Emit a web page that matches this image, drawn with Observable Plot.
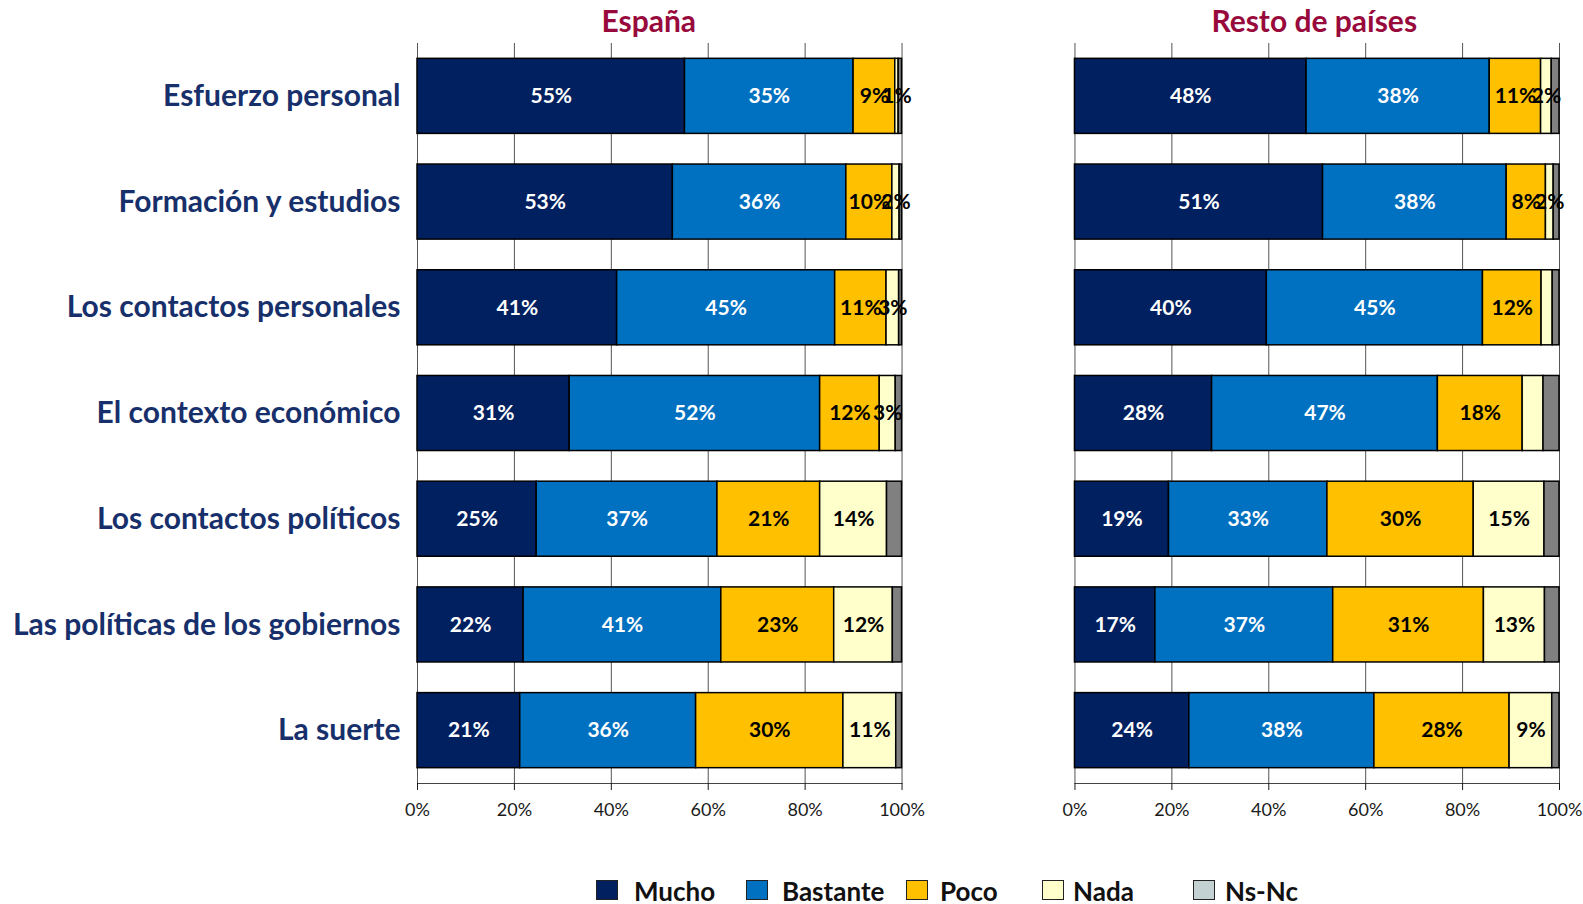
<!DOCTYPE html>
<html>
<head>
<meta charset="utf-8">
<script src="https://cdn.jsdelivr.net/npm/d3@7"></script>
<script src="https://cdn.jsdelivr.net/npm/@observablehq/plot@0.6"></script>
<style>
  body { margin: 0; background: #fff; }
  #wrap { position: relative; width: 1583px; height: 904px; overflow: hidden; font-family: Lato, sans-serif; background:#fff; }
  #legend { position: absolute; left: 0; top: 0; width: 1583px; height: 904px; pointer-events: none; }
  .sw { position: absolute; top: 880px; width: 22px; height: 20px; box-sizing: border-box; border: 1.5px solid #222; }
  .lab { position: absolute; top: 876px; font-weight: bold; font-size: 26px; line-height: 30px; color: #111; white-space: nowrap; }
</style>
</head>
<body>
<div id="wrap"><div id="chart"></div><div id="legend"></div></div>
<script>
// ---- data ----
const categories = ["Esfuerzo personal", "Formación y estudios", "Los contactos personales", "El contexto económico", "Los contactos políticos", "Las políticas de los gobiernos", "La suerte"];
const series = ["Mucho", "Bastante", "Poco", "Nada", "Ns-Nc"];
const panels = ["España", "Resto de países"];

const espanaMucho    = [55.2, 52.7, 41.2, 31.4, 24.6, 21.9, 21.2];
const espanaBastante = [34.8, 35.8, 45.0, 51.7, 37.3, 40.8, 36.3];
const espanaPoco     = [8.6, 9.5, 10.6, 12.3, 21.2, 23.3, 30.4];
const espanaNada     = [0.7, 1.5, 2.6, 3.3, 13.8, 12.1, 10.9];
const espanaNsNc     = [0.7, 0.5, 0.6, 1.3, 3.1, 1.9, 1.2];

const restoMucho     = [47.8, 51.2, 39.6, 28.3, 19.4, 16.6, 23.6];
const restoBastante  = [37.8, 37.9, 44.6, 46.6, 32.7, 36.7, 38.2];
const restoPoco      = [10.6, 8.1, 12.1, 17.5, 30.2, 31.1, 27.9];
const restoNada      = [2.2, 1.6, 2.3, 4.3, 14.6, 12.6, 8.8];
const restoNsNc      = [1.6, 1.2, 1.4, 3.3, 3.1, 3.0, 1.5];

// labels that the original leaves out
const hiddenLabels = [
  ["Resto de países", "Los contactos personales", "Nada"],
  ["Resto de países", "El contexto económico", "Nada"]
];
const unlabeledSeries = ["Ns-Nc"];
const xTicks = [0, 20, 40, 60, 80, 100];

// ---- styles ----
const barColors = ["#002060", "#0070C0", "#FFC000", "#FFFFCC", "#808080"];
const legendColors = ["#002060", "#0070C0", "#FFC000", "#FFFFCC", "#C3D1D3"];
const darkSeries = ["Mucho", "Bastante"];
const titleShift = [-11, -3];

// ---- build table ----
const panelValues = {
  "España": [espanaMucho, espanaBastante, espanaPoco, espanaNada, espanaNsNc],
  "Resto de países": [restoMucho, restoBastante, restoPoco, restoNada, restoNsNc]
};
const rows = [];
for (const p of panels) {
  categories.forEach((c, ci) => {
    series.forEach((s, si) => {
      const v = panelValues[p][si][ci];
      const hidden = unlabeledSeries.includes(s) || hiddenLabels.some(h => h[0] === p && h[1] === c && h[2] === s);
      rows.push({panel: p, category: c, series: s, value: v, label: hidden ? null : Math.round(v) + "%"});
    });
  });
}

const labelOpts = (dark) => Plot.stackX({
  x: "value", y: "category", fx: "panel", z: "series",
  text: d => (darkSeries.includes(d.series) === dark ? d.label : null),
  fill: dark ? "white" : "black",
  fontSize: 21, fontWeight: "bold"
});

const titleMarks = panels.map((p, i) =>
  Plot.text([p], {fx: d => d, text: d => d, frameAnchor: "top", lineAnchor: "middle", dy: -21, dx: titleShift[i], fontSize: 30, fontWeight: "bold", fill: "#990a3c"})
);

const chart = Plot.plot({
  width: 1583,
  height: 830,
  marginLeft: 417,
  marginRight: 24,
  marginTop: 43,
  marginBottom: 47,
  style: {fontFamily: "Lato, sans-serif", background: "white", overflow: "visible"},
  fx: {domain: panels, paddingInner: 0.263, paddingOuter: 0, round: false, axis: null, label: null},
  x: {domain: [0, 100], label: null},
  y: {domain: categories, paddingInner: 0.29, paddingOuter: 0.145, round: false, label: null},
  color: {domain: series, range: barColors},
  marks: [
    Plot.gridX(xTicks, {stroke: "#555", strokeOpacity: 1, strokeWidth: 1}),
    Plot.barX(rows, {x: "value", y: "category", fx: "panel", fill: "series", stroke: "#000", strokeWidth: 1.5}),
    Plot.text(rows, labelOpts(true)),
    Plot.text(rows, labelOpts(false)),
    Plot.frame({anchor: "bottom", stroke: "#444"}),
    Plot.axisX(xTicks, {tickFormat: d => d + "%", tickSize: 7, tickPadding: 13, fontSize: 18, color: "#1a1a1a", label: null}),
    Plot.axisY({tickSize: 0, tickPadding: 17, fontSize: 30, fontWeight: "bold", color: "#17306b", label: null}),
    ...titleMarks
  ]
});
document.getElementById("chart").appendChild(chart);

// ---- legend ----
const legendSwatchX = [596, 746, 906, 1042, 1193];
const legendTextX = [634, 782, 940, 1073, 1225];
const legend = document.getElementById("legend");
series.forEach((s, i) => {
  const sw = document.createElement("div");
  sw.className = "sw";
  sw.style.left = legendSwatchX[i] + "px";
  sw.style.background = legendColors[i];
  legend.appendChild(sw);
  const lab = document.createElement("div");
  lab.className = "lab";
  lab.style.left = legendTextX[i] + "px";
  lab.textContent = s;
  legend.appendChild(lab);
});
</script>
</body>
</html>
